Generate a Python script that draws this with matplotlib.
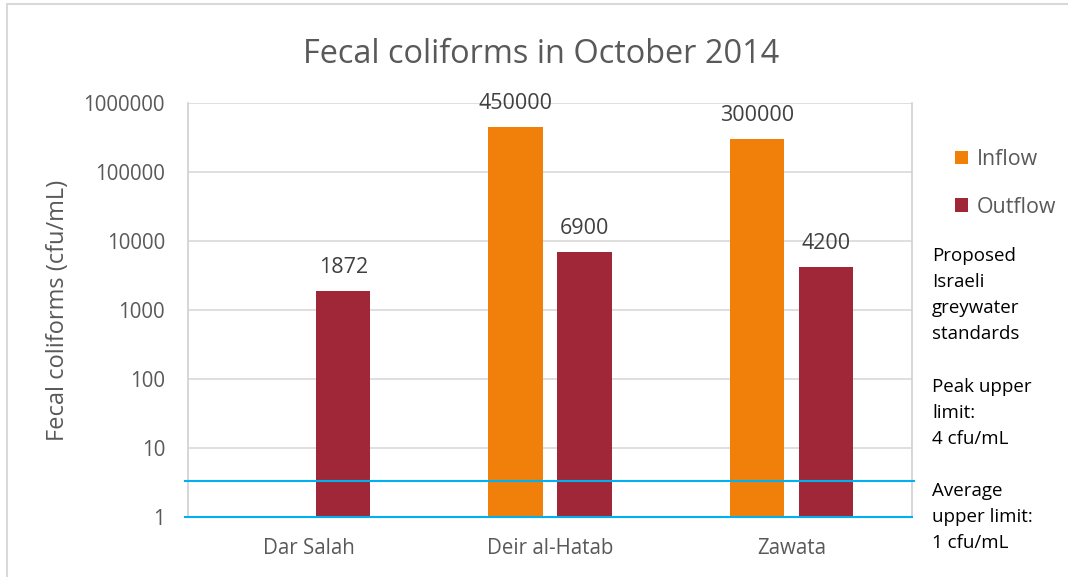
import matplotlib
matplotlib.use('Agg')
import matplotlib.pyplot as plt
import numpy as np

# data
sites = ['Dar Salah', 'Deir al-Hatab', 'Zawata']
inflow = [np.nan, 450000, 300000]
outflow = [1872, 6900, 4200]
inflow_labels = ['', '450000', '300000']
outflow_labels = ['1872', '6900', '4200']
yticks = [1, 10, 100, 1000, 10000, 100000, 1000000]
peak_limit = 3.3
avg_limit = 1.0

notes = [
    ['Proposed', 'Israeli', 'greywater', 'standards'],
    ['Peak upper', 'limit:', '4 cfu/mL'],
    ['Average', 'upper limit:', '1 cfu/mL'],
]

plt.rcParams['font.family'] = ['Open Sans', 'DejaVu Sans']
grey = '#595959'
c_in = '#F0800A'
c_out = '#A02737'
c_line = '#00B0F0'

W, H = 1068, 577
fig = plt.figure(figsize=(W / 100, H / 100), dpi=100)
ax = fig.add_axes([188 / W, 1 - 517 / H, 724 / W, 414 / H])

x = np.arange(len(sites))
w = 0.224
off = 0.143
ax.bar(x - off, inflow, w, color=c_in, label='Inflow', zorder=2)
ax.bar(x + off, outflow, w, color=c_out, label='Outflow', zorder=2)

for i in range(len(sites)):
    if inflow_labels[i]:
        ax.annotate(inflow_labels[i], (x[i] - off, inflow[i]), xytext=(0, 13),
                    textcoords='offset points', ha='center', va='baseline',
                    fontsize=15.5, color='#404040')
    ax.annotate(outflow_labels[i], (x[i] + off, outflow[i]), xytext=(0, 13),
                textcoords='offset points', ha='center', va='baseline',
                fontsize=15.5, color='#404040')

ax.set_yscale('log')
ax.set_ylim(1, 1e6)
ax.set_xlim(-0.5, 2.5)
ax.set_yticks(yticks)
ax.set_yticklabels([str(t) for t in yticks])
ax.minorticks_off()
ax.set_xticks(x)
ax.set_xticklabels(sites)
ax.tick_params(axis='both', length=0, labelsize=14.8, colors=grey)
ax.tick_params(axis='y', pad=16.5)
ax.tick_params(axis='x', pad=15)
ax.grid(axis='y', color='#D9D9D9', lw=1.2, zorder=0)
for s in ['left', 'right']:
    ax.spines[s].set_color('#D0D0D0')
    ax.spines[s].set_linewidth(1.2)
ax.spines['top'].set_visible(False)
ax.spines['bottom'].set_visible(False)

fig.text(58 / W, 1 - 310 / H, 'Fecal coliforms (cfu/mL)', rotation=90, ha='center',
         va='center', fontsize=17, color=grey)
fig.text(541 / W, 1 - 63 / H, 'Fecal coliforms in October 2014', ha='center', va='baseline',
         fontsize=23.4, color=grey)

# limit lines
ax.axhline(peak_limit, xmin=-0.004, xmax=1.003, color=c_line, lw=1.5, clip_on=False, zorder=3)
ax.axhline(avg_limit, xmin=-0.004, xmax=1.0, color=c_line, lw=1.5, clip_on=False, zorder=3)

fig.legend(loc='upper left', bbox_to_anchor=(955 / W, 1 - 149 / H), frameon=False,
           fontsize=15.4, labelcolor=grey, handlelength=0.6, handleheight=0.6,
           handletextpad=0.4, labelspacing=1.24, borderpad=0, borderaxespad=0)

# notes on the right, one baseline per line
starts = [261, 392, 496]
for block, y0 in zip(notes, starts):
    for j, line in enumerate(block):
        fig.text(932 / W, 1 - (y0 + 26 * j) / H, line, fontsize=13.5, color='black',
                 ha='left', va='baseline')

# outer chart border
border = plt.Rectangle((7 / W, -0.1), 1.2, 1 - 4 / H + 0.1, transform=fig.transFigure,
                       fill=False, edgecolor='#D9D9D9', lw=1.5)
fig.patches.append(border)

fig.savefig('out.png', dpi=100)
